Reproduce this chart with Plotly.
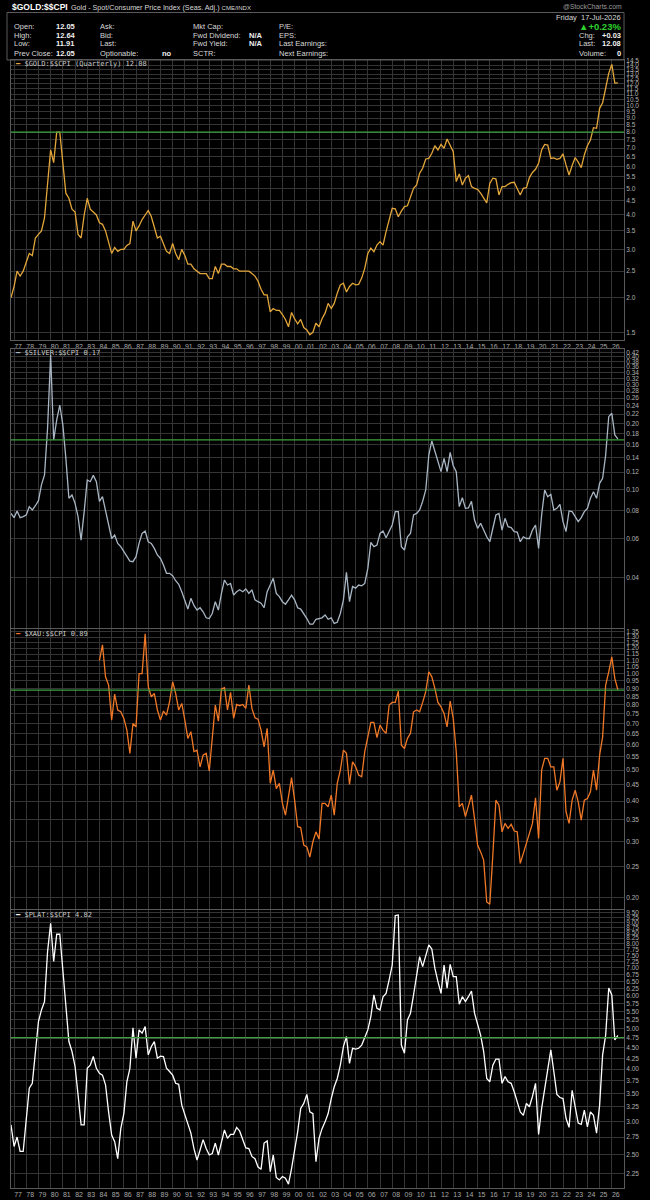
import plotly.graph_objects as go
import pandas as pd

W, H = 650, 1200

# quarterly closes, Q4 1976 .. Q3 2026
quarters = pd.date_range("1976-10-01", "2026-07-01", freq="QS")

gold = [2.0, 2.2, 2.5, 2.4, 2.5, 2.7, 2.9, 2.85, 3.3, 3.4,
        3.5, 3.9, 5.3, 6.9, 6.2, 8.0, 8.0, 6.3, 4.8, 4.6,
        4.2, 4.1, 3.4, 3.3, 4.0, 4.6, 4.2, 4.1, 4.0, 3.75,
        3.7, 3.5, 3.2, 2.9, 3.05, 2.95, 3.0, 3.0, 3.1, 3.15,
        3.8, 3.5, 3.65, 3.85, 4.0, 4.15, 3.95, 3.6, 3.3, 3.35,
        3.15, 2.95, 2.9, 3.15, 2.9, 2.75, 3.0, 2.85, 2.65, 2.65,
        2.55, 2.5, 2.45, 2.45, 2.45, 2.35, 2.35, 2.6, 2.45, 2.65,
        2.65, 2.6, 2.6, 2.55, 2.55, 2.5, 2.5, 2.5, 2.5, 2.45,
        2.4, 2.3, 2.15, 2.05, 2.05, 1.78, 1.83, 1.8, 1.8, 1.74,
        1.67, 1.57, 1.77, 1.68, 1.61, 1.67, 1.56, 1.53, 1.47, 1.5,
        1.62, 1.57, 1.68, 1.76,
        1.91, 1.83, 1.91, 2.08, 2.23, 2.26, 2.10, 2.20, 2.26, 2.23,
        2.24, 2.36, 2.56, 2.90, 3.03, 2.94, 3.11, 3.20, 3.11, 3.48,
        3.84, 4.23, 4.21, 3.94, 4.13, 4.29, 4.32, 4.66, 5.0, 5.14,
        5.67, 5.91, 6.39, 6.42, 6.70, 7.14, 6.89, 7.22, 6.99, 7.55,
        7.14, 6.79, 5.29, 5.64, 5.14, 5.44, 5.56, 5.07, 5.0, 4.96,
        4.80, 4.60, 4.43, 5.21, 5.44, 5.41, 4.73, 5.07, 5.07, 5.17,
        5.24, 5.26, 5.0, 4.73, 5.0, 5.03, 5.47, 5.71, 5.86, 6.16,
        6.89, 7.22, 7.18, 6.42, 6.45, 6.37, 6.42, 6.67, 6.08, 5.59,
        6.05, 6.47, 6.22, 5.94, 6.61, 7.14, 7.49, 8.30, 8.26, 9.76,
        10.23, 11.54, 13.08, 14.1, 12.05, 12.08]

silver = [0.078, 0.0746, 0.080, 0.0746, 0.0754, 0.0767, 0.0837, 0.0808, 0.0845, 0.0891,
          0.105, 0.1165, 0.190, 0.408, 0.168, 0.207, 0.242, 0.196, 0.1386, 0.0913,
          0.0945, 0.0866, 0.0754, 0.059, 0.0795, 0.1105, 0.1086, 0.116, 0.1086, 0.0885,
          0.0929, 0.0808, 0.0703, 0.060, 0.0622, 0.057, 0.0551, 0.0523, 0.0496, 0.0474,
          0.0471, 0.0496, 0.057, 0.0633, 0.0649, 0.058, 0.057, 0.0541, 0.0505, 0.0487,
          0.0455, 0.0417, 0.0417, 0.0407, 0.0386, 0.0372, 0.0344, 0.031, 0.0287, 0.0321,
          0.0298, 0.0284, 0.0291, 0.0279, 0.0262, 0.026, 0.0274, 0.031, 0.0284, 0.0338,
          0.0389, 0.0369, 0.0375, 0.0332, 0.0344, 0.0351, 0.0344, 0.0354, 0.0338, 0.0351,
          0.0316, 0.031, 0.0305, 0.0291, 0.0344, 0.0369, 0.0396, 0.0338, 0.0327, 0.031,
          0.0302, 0.0316, 0.0332, 0.0316, 0.0291, 0.0287, 0.0274, 0.026, 0.0245, 0.0245,
          0.0258, 0.026, 0.0262, 0.027,
          0.0258, 0.0262, 0.0247, 0.025, 0.0274, 0.0316, 0.0421, 0.031, 0.0363, 0.0357,
          0.0369, 0.0366, 0.0375, 0.0439, 0.0576, 0.0551, 0.056, 0.0633, 0.0649, 0.0605,
          0.0645, 0.0691, 0.0794, 0.0794, 0.0551, 0.0532, 0.0611, 0.0633, 0.0767, 0.078,
          0.0808, 0.0885, 0.0996, 0.1435, 0.1662, 0.1486, 0.1316, 0.1206, 0.1386, 0.1206,
          0.1476, 0.1284, 0.1206, 0.0837, 0.0919, 0.0822, 0.0826, 0.0885, 0.0728, 0.0667,
          0.0703, 0.0655, 0.0611, 0.058, 0.0679, 0.0767, 0.078, 0.0655, 0.0741, 0.0679,
          0.0672, 0.0645, 0.0641, 0.058, 0.0611, 0.060, 0.060, 0.0655, 0.0691, 0.0541,
          0.0767, 0.0996, 0.0929, 0.0952, 0.0808, 0.0822, 0.0857, 0.0715, 0.0645, 0.080,
          0.0794, 0.0754, 0.0715, 0.0746, 0.0794, 0.0822, 0.0913, 0.0978, 0.0913, 0.1068,
          0.1125, 0.1435, 0.2143, 0.222, 0.177, 0.17]

# XAU index starts Q1 1984
xau = [1.10, 1.23, 0.977, 0.921, 0.716, 0.863, 0.770, 0.760, 0.725, 0.666,
       0.564, 0.699, 0.682, 1.00, 1.00, 1.33, 0.910, 0.847, 0.867, 0.770,
       0.716, 0.764, 0.742, 0.817, 0.943, 0.867, 0.770, 0.807, 0.716, 0.628,
       0.659, 0.571, 0.577, 0.512, 0.557, 0.564, 0.497, 0.613, 0.798, 0.711,
       0.895, 0.903, 0.770, 0.874, 0.725, 0.801, 0.794, 0.801, 0.779, 0.921,
       0.779, 0.728, 0.721, 0.666, 0.591, 0.675, 0.455, 0.500, 0.438, 0.455,
       0.394, 0.362, 0.413, 0.474, 0.403, 0.333, 0.331, 0.292, 0.288, 0.268,
       0.299, 0.321, 0.305, 0.394, 0.394,
       0.384, 0.418, 0.362, 0.455, 0.500, 0.577, 0.564, 0.451, 0.531, 0.512,
       0.483, 0.477, 0.571, 0.635, 0.704, 0.704, 0.631, 0.691, 0.666, 0.651,
       0.798, 0.813, 0.813, 0.882, 0.598, 0.584, 0.628, 0.651, 0.760, 0.770,
       0.760, 0.813, 0.878, 1.013, 0.977, 0.899, 0.813, 0.788, 0.751, 0.682,
       0.821, 0.725, 0.571, 0.384, 0.394, 0.358, 0.389, 0.418, 0.353, 0.292,
       0.278, 0.262, 0.194, 0.191, 0.272, 0.403, 0.389, 0.321, 0.341, 0.329,
       0.339, 0.323, 0.321, 0.256, 0.275, 0.295, 0.321, 0.341, 0.410, 0.306,
       0.500, 0.544, 0.544, 0.512, 0.512, 0.433, 0.460, 0.544, 0.371, 0.341,
       0.403, 0.433, 0.398, 0.349, 0.403, 0.408, 0.428, 0.500, 0.433, 0.557,
       0.635, 0.921, 1.013, 1.128, 0.966, 0.89]

plat = [2.94, 2.61, 2.75, 2.54, 2.54, 3.05, 3.60, 3.70, 4.33, 5.20,
        5.55, 5.81, 7.66, 8.96, 7.25, 8.43, 8.43, 6.99, 5.60, 4.66,
        4.41, 4.06, 3.47, 2.94, 2.94, 4.02, 4.09, 4.29, 4.02, 3.91,
        3.87, 3.67, 3.16, 2.78, 2.68, 2.44, 2.88, 3.13, 3.73, 4.02,
        5.03, 4.25, 4.97, 4.88, 5.06, 4.33, 4.53, 4.66, 4.25, 4.30,
        4.29, 4.02, 3.95, 3.87, 3.70, 3.68, 3.28, 3.10, 2.97, 2.81,
        2.58, 2.42, 2.56, 2.71, 2.58, 2.49, 2.51, 2.66, 2.49, 2.69,
        2.86, 2.73, 2.79, 2.79, 2.90, 2.84, 2.71, 2.59, 2.58, 2.47,
        2.44, 2.33, 2.30, 2.66, 2.69, 2.27, 2.49, 2.20, 2.17, 2.21,
        2.19, 2.12, 2.31, 2.54, 2.83, 3.22, 3.31, 3.48, 3.16, 3.13,
        2.40, 2.73, 2.88, 2.99,
        3.13, 3.40, 3.63, 3.80, 4.09, 4.53, 4.79, 4.13, 4.49, 4.47,
        4.49, 4.57, 4.75, 4.97, 5.35, 6.03, 5.60, 5.55, 5.97, 6.08,
        6.55, 7.11, 9.35, 9.38, 4.57, 4.37, 5.25, 5.45, 6.03, 6.73,
        7.45, 7.05, 7.52, 7.95, 7.77, 6.99, 6.49, 6.08, 7.11, 6.26,
        7.14, 6.67, 6.67, 5.73, 5.97, 5.81, 5.97, 6.16, 5.45, 5.11,
        4.83, 4.41, 3.80, 3.73, 4.09, 4.23, 4.23, 3.70, 3.84, 3.73,
        3.70, 3.53, 3.34, 3.16, 3.10, 3.31, 3.25, 3.44, 3.70, 2.79,
        3.22, 3.60, 4.06, 4.45, 3.95, 3.48, 3.42, 3.40, 3.05, 2.90,
        3.56, 3.28, 2.97, 2.95, 3.19, 2.91, 3.16, 3.10, 2.81, 3.28,
        4.33, 4.83, 6.26, 6.03, 4.70, 4.82]

# horizontal reference lines drawn on each panel
levels = [8.0, 0.168, 0.888, 4.76]

gold_ticks = [1.5, 2.0, 2.5, 3.0, 3.5, 4.0, 4.5, 5.0, 5.5, 6.0, 6.5, 7.0, 7.5, 8.0, 8.5,
              9.0, 9.5, 10.0, 10.5, 11.0, 11.5, 12.0, 12.5, 13.0, 13.5, 14.0, 14.5]
silver_ticks = [0.04, 0.06, 0.08, 0.10, 0.12, 0.14, 0.16, 0.18, 0.20, 0.22, 0.24,
                0.26, 0.28, 0.30, 0.32, 0.34, 0.36, 0.38, 0.40, 0.42]
xau_ticks = [0.20, 0.25, 0.30, 0.35, 0.40, 0.45, 0.50, 0.55, 0.60, 0.65, 0.70, 0.75,
             0.80, 0.85, 0.90, 0.95, 1.00, 1.05, 1.10, 1.15, 1.20, 1.25, 1.30, 1.35]
plat_ticks = [2.25, 2.50, 2.75, 3.00, 3.25, 3.50, 3.75, 4.00, 4.25, 4.50, 4.75, 5.00,
              5.25, 5.50, 5.75, 6.00, 6.25, 6.50, 6.75, 7.00, 7.25, 7.50, 7.75, 8.00,
              8.25, 8.50, 8.75, 9.00, 9.25, 9.50]

years = list(range(1977, 2027))
year_labels = ["%02d" % (y % 100) for y in years]

panels = [
    dict(name="$GOLD:$$CPI (Quarterly) 12.08", y=gold, color="#E3A63A", ticks=gold_ticks,
         fmt="%.1f", top=60, bot=340, rng=[0.148, 1.165]),
    dict(name="$SILVER:$$CPI 0.17", y=silver, color="#A9B6C4", ticks=silver_ticks,
         fmt="%.2f", top=349, bot=628, rng=[-1.628, -0.362]),
    dict(name="$XAU:$$CPI 0.89", y=xau, color="#F07826", ticks=xau_ticks,
         fmt="%.2f", top=629, bot=909, rng=[-0.734, 0.139]),
    dict(name="$PLAT:$$CPI 4.82", y=plat, color="#FFFFFF", ticks=plat_ticks,
         fmt="%.2f", top=910, bot=1188, rng=[0.317, 0.984]),
]

GRID = "#343434"
BORDER = "#5a5a5a"
FONT = "Liberation Sans"
NARROW = "Liberation Sans Narrow, Arial Narrow, Liberation Sans"

fig = go.Figure()
layout = dict(width=W, height=H, paper_bgcolor="black", plot_bgcolor="black",
              margin=dict(l=0, r=0, t=0, b=0), showlegend=False)

for i, p in enumerate(panels, start=1):
    xs = quarters[len(quarters) - len(p["y"]):]
    fig.add_trace(go.Scatter(x=xs, y=p["y"], mode="lines",
                             line=dict(color=p["color"], width=1.3),
                             xaxis="x%d" % i if i > 1 else "x",
                             yaxis="y%d" % i if i > 1 else "y"))
    sfx = "" if i == 1 else str(i)
    layout["xaxis" + sfx] = dict(
        domain=[11 / W, 624 / W], range=["1976-10-01", "2027-01-01"],
        anchor="y" + sfx, tickmode="array",
        tickvals=["%d-01-01" % y for y in years], ticktext=year_labels,
        showticklabels=(i in (1, 4)), ticks="", ticklabelshift=4,
        tickfont=dict(family=NARROW, size=7, color="#a8a8a8"),
        showgrid=True, gridcolor=GRID, gridwidth=1,
        showline=True, mirror=True, linecolor=BORDER, linewidth=1,
        zeroline=False, fixedrange=True)
    if i > 1:
        layout["xaxis" + sfx]["matches"] = "x"
    layout["yaxis" + sfx] = dict(
        domain=[1 - p["bot"] / H, 1 - p["top"] / H], type="log", range=p["rng"],
        anchor="x" + sfx, side="right", tickmode="array", tickvals=p["ticks"],
        ticktext=[p["fmt"] % t for t in p["ticks"]], ticks="",
        tickfont=dict(family=NARROW, size=6.5, color="#b0b0b0"),
        showgrid=True, gridcolor=GRID, gridwidth=1,
        showline=True, mirror=True, linecolor=BORDER, linewidth=1,
        zeroline=False, automargin=False)
    fig.add_shape(type="line", xref="x%s domain" % sfx, yref="y" + sfx,
                  x0=0, x1=1, y0=levels[i - 1], y1=levels[i - 1],
                  line=dict(color="#3FA03F", width=1.3))
    fig.add_annotation(x=13 / W, y=1 - (p["top"] + 4.5) / H, xref="paper", yref="paper",
                       text="<span style='color:%s'>━</span> %s" % (p["color"], p["name"]),
                       showarrow=False, xanchor="left", yanchor="middle",
                       font=dict(family="DejaVu Sans Mono", size=7, color="#c8c8c8"))

fig.update_layout(**layout)


def txt(x, y, s, size=7.5, color="#d8d8d8", anchor="left", family=FONT):
    fig.add_annotation(x=x / W, y=1 - y / H, xref="paper", yref="paper", text=s,
                       showarrow=False, xanchor=anchor, yanchor="middle",
                       font=dict(family=family, size=size, color=color))


# header block
fig.add_shape(type="rect", xref="paper", yref="paper", x0=7 / W, x1=624 / W,
              y0=1 - 60 / H, y1=1 - 12.5 / H, line=dict(color=BORDER, width=1))
txt(10, 7.3, "<b>$GOLD:$$CPI</b>", size=8.5, color="#ffffff")
txt(69, 7.3, "Gold - Spot/Consumer Price Index (Seas. Adj.) "
             "<span style='font-size:6px'>CME/INDX</span>", size=7.2)
txt(624, 6.7, "@StockCharts.com", size=6.8, color="#9a9a9a", anchor="right")

rows = [26, 35, 44, 53]
col1 = ["Open:", "High:", "Low:", "Prev Close:"]
val1 = ["12.05", "12.64", "11.91", "12.05"]
col2 = ["Ask:", "Bid:", "Last:", "Optionable:"]
col3 = ["Mkt Cap:", "Fwd Dividend:", "Fwd Yield:", "SCTR:"]
col4 = ["P/E:", "EPS:", "Last Earnings:", "Next Earnings:"]
for r, a, v, b, c, d in zip(rows, col1, val1, col2, col3, col4):
    txt(12, r, a)
    txt(54, r, "<b>%s</b>" % v, color="#f0f0f0")
    txt(98, r, b)
    txt(191, r, c)
    txt(277, r, d)
txt(160, rows[3], "<b>no</b>", color="#f0f0f0")
txt(247, rows[1], "<b>N/A</b>", color="#f0f0f0")
txt(247, rows[2], "<b>N/A</b>", color="#f0f0f0")

txt(623, 17.3, "Friday  17-Jul-2026", anchor="right")
txt(623, 26, "<b>▲+0.23%</b>", size=9.5, color="#2fd12f", anchor="right")
right_labels = ["Chg:", "Last:", "Volume:"]
right_values = ["+0.03", "12.08", "0"]
for r, a, v in zip(rows[1:], right_labels, right_values):
    txt(577, r, a)
    txt(623, r, "<b>%s</b>" % v, color="#f0f0f0", anchor="right")

fig.write_html("out.html", config={"displayModeBar": False},
               post_script="document.body.style.margin='0';"
                           "document.body.style.background='black';")
